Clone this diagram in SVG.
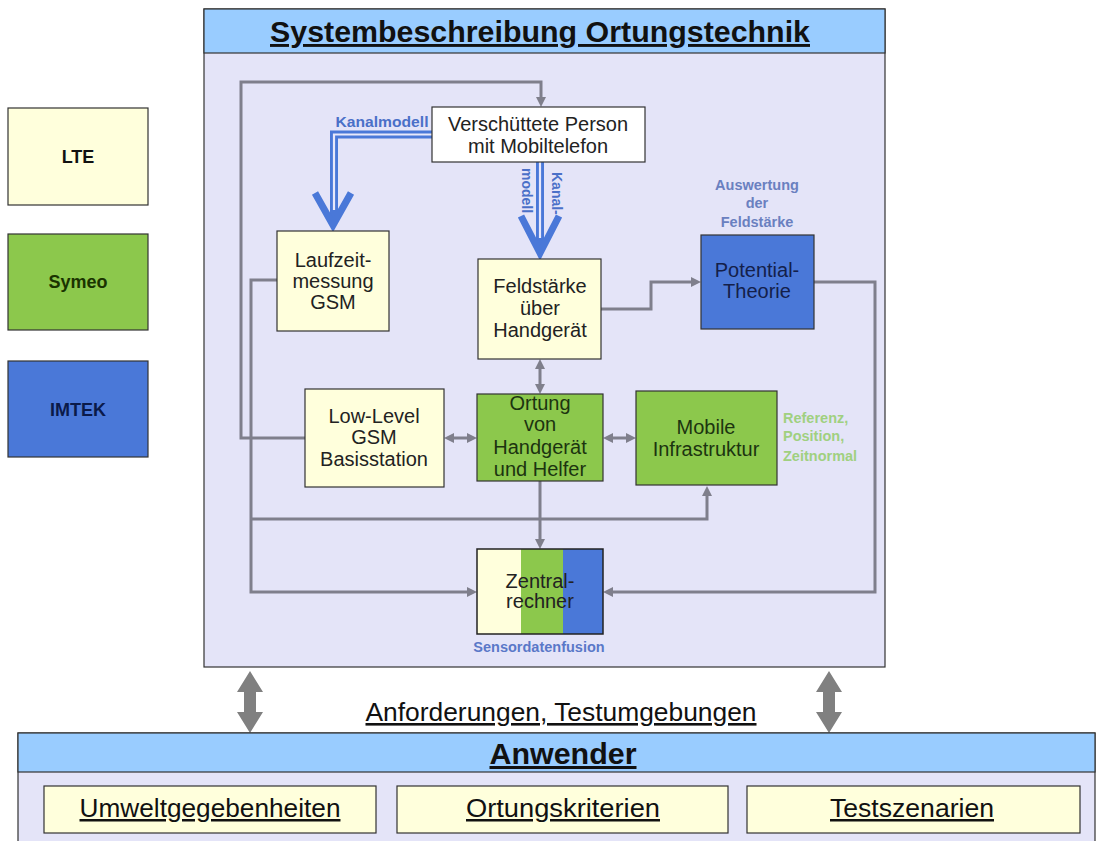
<svg xmlns="http://www.w3.org/2000/svg" width="1096" height="841" viewBox="0 0 1096 841">
<style>
.pan{fill:#e4e4f8;stroke:#333;stroke-width:1.2}
.hdr{fill:#99ccff;stroke:#333;stroke-width:1.2}
.cream{fill:#ffffdc;stroke:#333;stroke-width:1.2}
.green{fill:#8cc84c;stroke:#333;stroke-width:1.2}
.blue{fill:#4a78d8;stroke:#333;stroke-width:1.2}
.wht{fill:#ffffff;stroke:#333;stroke-width:1.2}
.t{font-family:"Liberation Sans",Arial,sans-serif;font-size:20px;fill:#222;text-anchor:middle}
.tg{fill:#1c3410}
.tb{fill:#14204a}
.lg{font-family:"Liberation Sans",Arial,sans-serif;font-size:18px;font-weight:bold;text-anchor:middle}
.lab{font-family:"Liberation Sans",Arial,sans-serif;font-size:14.5px;font-weight:bold;text-anchor:middle}
.big{font-family:"Liberation Sans",Arial,sans-serif;fill:#111;text-anchor:middle;text-decoration:underline}
.con{fill:none;stroke:#7f7f8c;stroke-width:3}
.bo{fill:none;stroke:#4a78d8;stroke-width:8}
.bi{fill:none;stroke:#e8e8fa;stroke-width:2.2}
.chev{fill:none;stroke:#4a78d8;stroke-width:7;stroke-linejoin:miter}
</style>
<defs>
<marker id="ah" viewBox="0 0 10 10" markerUnits="userSpaceOnUse" markerWidth="10" markerHeight="10" refX="2" refY="5" orient="auto-start-reverse">
<path d="M0,0 L10,5 L0,10 z" fill="#7f7f8c"/>
</marker>
</defs>
<rect width="1096" height="841" fill="#ffffff"/>

<g id="legend">
<g id="legend-lte"><rect class="cream" x="8" y="108" width="140" height="97"/><text class="lg" x="78" y="163" fill="#111">LTE</text></g>
<g id="legend-symeo"><rect class="green" x="8" y="234" width="140" height="96"/><text class="lg" x="78" y="288" fill="#1a3300">Symeo</text></g>
<g id="legend-imtek"><rect class="blue" x="8" y="361" width="140" height="96"/><text class="lg" x="78" y="416" fill="#0a1a4a">IMTEK</text></g>
</g>

<g id="system-panel">
<rect class="pan" x="204" y="9" width="681" height="658"/>
<rect class="hdr" x="204" y="9" width="681" height="44"/>
<text class="big" x="540" y="42" font-size="29" font-weight="bold" textLength="540" lengthAdjust="spacingAndGlyphs">Systembeschreibung Ortungstechnik</text>
</g>

<g id="connectors">
<path class="con" d="M305,438 H241 V82 H541 V99" marker-end="url(#ah)"/>
<path class="con" d="M277,280 H251 V592 H469" marker-end="url(#ah)"/>
<path class="con" d="M251,519 H707 V494" marker-end="url(#ah)"/>
<path class="con" d="M540,481 V541" marker-end="url(#ah)"/>
<path class="con" d="M601,309 H651 V282 H693" marker-end="url(#ah)"/>
<path class="con" d="M814,282 H875 V592 H611" marker-end="url(#ah)"/>
<path class="con" d="M540,367 V386" marker-start="url(#ah)" marker-end="url(#ah)"/>
<path class="con" d="M452,438 H469" marker-start="url(#ah)" marker-end="url(#ah)"/>
<path class="con" d="M611,438 H628" marker-start="url(#ah)" marker-end="url(#ah)"/>
<path class="bo" d="M432,134.5 H334 V222"/>
<path class="bi" d="M432,134.5 H334 V210"/>
<polyline class="chev" points="315,193 333,225 351,193"/>
<path class="bo" d="M540,162 V250"/>
<path class="bi" d="M540,162 V238"/>
<polyline class="chev" points="521,216 540,253 559,216"/>
<polygon points="250,671 263,692 256,692 256,712 263,712 250,733 237,712 244,712 244,692 237,692" fill="#808080"/>
<polygon points="829,671 842,692 835,692 835,712 842,712 829,733 816,712 823,712 823,692 816,692" fill="#808080"/>
</g>

<g id="labels">
<text class="lab" x="382" y="127" fill="#4a70c8" textLength="93" lengthAdjust="spacingAndGlyphs">Kanalmodell</text>
<text class="lab" style="font-size:14px;text-anchor:start" transform="translate(522,168) rotate(90)" fill="#4a70c8">modell</text>
<text class="lab" style="font-size:14px;text-anchor:start" transform="translate(552,172) rotate(90)" fill="#4a70c8">Kanal-</text>
<text class="lab" fill="#6a80c0"><tspan x="757" y="190">Auswertung</tspan><tspan x="757" y="208">der</tspan><tspan x="757" y="227">Feldstärke</tspan></text>
<text class="lab" fill="#a0d080" style="text-anchor:start"><tspan x="783" y="423">Referenz,</tspan><tspan x="783" y="441">Position,</tspan><tspan x="783" y="461">Zeitnormal</tspan></text>
<text class="lab" x="539" y="652" fill="#5a78c8">Sensordatenfusion</text>
</g>

<g id="node-person"><rect class="wht" x="432" y="107" width="213" height="55"/>
<text class="t"><tspan x="538" y="131">Verschüttete Person</tspan><tspan x="538" y="153">mit Mobiltelefon</tspan></text></g>

<g id="node-laufzeit"><rect class="cream" x="277" y="231" width="112" height="100"/>
<text class="t"><tspan x="333" y="267">Laufzeit-</tspan><tspan x="333" y="288">messung</tspan><tspan x="333" y="309">GSM</tspan></text></g>

<g id="node-feldstaerke"><rect class="cream" x="478" y="259" width="123" height="100"/>
<text class="t"><tspan x="540" y="293">Feldstärke</tspan><tspan x="540" y="315">über</tspan><tspan x="540" y="337">Handgerät</tspan></text></g>

<g id="node-potential"><rect class="blue" x="701" y="235" width="113" height="94"/>
<text class="t tb"><tspan x="757" y="277">Potential-</tspan><tspan x="757" y="298">Theorie</tspan></text></g>

<g id="node-lowlevel"><rect class="cream" x="305" y="389" width="139" height="98"/>
<text class="t"><tspan x="374" y="423">Low-Level</tspan><tspan x="374" y="444">GSM</tspan><tspan x="374" y="466">Basisstation</tspan></text></g>

<g id="node-ortung"><rect class="green" x="477" y="394" width="126" height="87"/>
<text class="t tg"><tspan x="540" y="410">Ortung</tspan><tspan x="540" y="431">von</tspan><tspan x="540" y="454">Handgerät</tspan><tspan x="540" y="476">und Helfer</tspan></text></g>

<g id="node-mobile"><rect class="green" x="636" y="391" width="141" height="94"/>
<text class="t tg"><tspan x="706" y="434">Mobile</tspan><tspan x="706" y="456">Infrastruktur</tspan></text></g>

<g id="node-zentral">
<rect x="477" y="549" width="44" height="85" fill="#ffffdc"/>
<rect x="521" y="549" width="42" height="85" fill="#8cc84c"/>
<rect x="563" y="549" width="40" height="85" fill="#4a78d8"/>
<rect x="477" y="549" width="126" height="85" fill="none" stroke="#222" stroke-width="1.5"/>
<text class="t"><tspan x="540" y="588">Zentral-</tspan><tspan x="540" y="608">rechner</tspan></text></g>

<g id="requirements-label">
<text class="big" x="561" y="721" font-size="26" textLength="391" lengthAdjust="spacingAndGlyphs">Anforderungen, Testumgebungen</text>
</g>

<g id="anwender-panel">
<rect class="pan" x="18" y="733" width="1077" height="120"/>
<rect class="hdr" x="18" y="733" width="1077" height="39"/>
<text class="big" x="563" y="764" font-size="30" font-weight="bold" textLength="147" lengthAdjust="spacingAndGlyphs">Anwender</text>
</g>
<g id="node-umwelt"><rect class="cream" x="44" y="786" width="332" height="47"/>
<text class="big" x="210" y="817" font-size="25" textLength="261" lengthAdjust="spacingAndGlyphs">Umweltgegebenheiten</text></g>
<g id="node-kriterien"><rect class="cream" x="397" y="786" width="331" height="47"/>
<text class="big" x="563" y="817" font-size="25" textLength="194" lengthAdjust="spacingAndGlyphs">Ortungskriterien</text></g>
<g id="node-szenarien"><rect class="cream" x="747" y="786" width="333" height="47"/>
<text class="big" x="912" y="817" font-size="25" textLength="164" lengthAdjust="spacingAndGlyphs">Testszenarien</text></g>
</svg>
